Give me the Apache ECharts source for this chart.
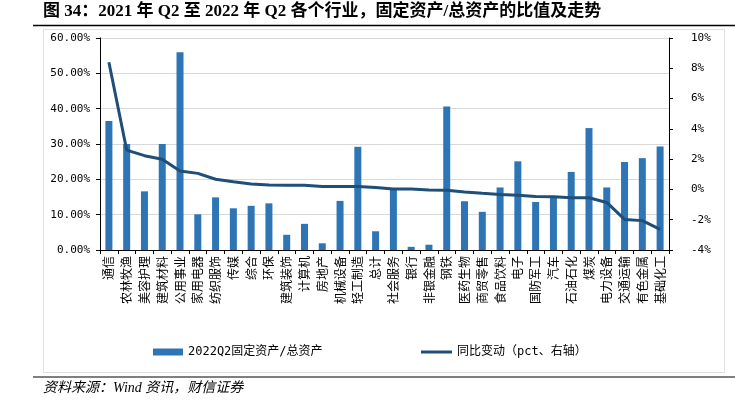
<!DOCTYPE html>
<html>
<head>
<meta charset="utf-8">
<script src="https://cdn.jsdelivr.net/npm/echarts@6/dist/echarts.min.js"></script>
<style>
html,body{margin:0;padding:0;background:#fff;}
#main{width:735px;height:400px;}
</style>
</head>
<body>
<div id="main"></div>
<script>
const categories = ['通信','农林牧渔','美容护理','建筑材料','公用事业','家用电器','纺织服饰','传媒','综合','环保','建筑装饰','计算机','房地产','机械设备','轻工制造','总计','社会服务','银行','非银金融','钢铁','医药生物','商贸零售','食品饮料','电子','国防军工','汽车','石油石化','煤炭','电力设备','交通运输','有色金属','基础化工'];
const ratio2022Q2 = [36.5,30.0,16.6,30.0,56.0,10.1,14.9,11.8,12.5,13.2,4.3,7.4,1.9,13.9,29.2,5.3,17.2,0.9,1.5,40.6,13.8,10.8,17.7,25.1,13.6,15.0,22.1,34.5,17.7,24.9,26.0,29.3];
const yoyChange = [8.4,2.6,2.23,1.99,1.21,1.06,0.67,0.51,0.36,0.29,0.27,0.27,0.2,0.2,0.2,0.12,0.03,0.03,-0.04,-0.06,-0.17,-0.26,-0.33,-0.39,-0.46,-0.48,-0.55,-0.55,-0.86,-1.98,-2.06,-2.64];
const leftTicks = {min:0, max:60, interval:10};
const rightTicks = {min:-4, max:10, interval:2};
const barName = '2022Q2固定资产/总资产';
const lineName = '同比变动（pct、右轴）';
const titleText = '图 34：2021 年 Q2 至 2022 年 Q2 各个行业，固定资产/总资产的比值及走势';
const sourceText = '资料来源：Wind 资讯，财信证券';

const chart = echarts.init(document.getElementById('main'), null, {renderer:'canvas'});
const monoFont = "'DejaVu Sans Mono','Noto Sans CJK SC',monospace";
const cjkFont = "'Noto Sans CJK SC','DejaVu Sans',sans-serif";
chart.setOption({
  animation:false,
  backgroundColor:'#fff',
  grid:{left:100, right:66, top:38, bottom:150, containLabel:false},
  legend:[
    {data:[{name:barName, icon:'rect'}], left:153, top:346, padding:0, itemWidth:30, itemHeight:7, itemGap:10,
     textStyle:{fontFamily:monoFont, fontSize:12, color:'#000'}},
    {data:[{name:lineName, icon:'rect'}], left:421, top:346, padding:0, itemWidth:31, itemHeight:3,
     textStyle:{fontFamily:monoFont, fontSize:12, color:'#000'}}
  ],
  xAxis:{
    type:'category', data:categories,
    axisLine:{lineStyle:{color:'#000', width:1}},
    axisTick:{show:true, alignWithLabel:false, length:4, lineStyle:{color:'#000'}},
    axisLabel:{rotate:90, interval:0, fontFamily:cjkFont, fontSize:12, color:'#000', margin:6}
  },
  yAxis:[
    {type:'value', min:leftTicks.min, max:leftTicks.max, interval:leftTicks.interval, position:'left',
     axisLine:{show:true, lineStyle:{color:'#000'}},
     axisTick:{show:true, length:4, lineStyle:{color:'#000'}},
     splitLine:{show:true, lineStyle:{color:'#d9d9d9', width:1}},
     axisLabel:{formatter:v=>v.toFixed(2)+'%', fontFamily:monoFont, fontSize:11, color:'#000', margin:10}},
    {type:'value', min:rightTicks.min, max:rightTicks.max, interval:rightTicks.interval, position:'right',
     axisLine:{show:true, lineStyle:{color:'#000'}},
     axisTick:{show:true, length:4, lineStyle:{color:'#000'}},
     splitLine:{show:false},
     axisLabel:{formatter:v=>v+'%', fontFamily:monoFont, fontSize:11, color:'#000', margin:22}}
  ],
  series:[
    {name:barName, type:'bar', data:ratio2022Q2, yAxisIndex:0, barWidth:7,
     itemStyle:{color:'#2E75B6'}},
    {name:lineName, type:'line', data:yoyChange, yAxisIndex:1, symbol:'none',
     lineStyle:{color:'#1F4E79', width:3}, itemStyle:{color:'#1F4E79'}}
  ],
  graphic:[
    {type:'text', left:43, top:3, style:{text:titleText, font:"bold 17px 'Liberation Serif','Noto Sans CJK SC',serif", fill:'#000'}},
    {type:'line', shape:{x1:33, y1:25.5, x2:735, y2:25.5}, style:{stroke:'#000', lineWidth:1.5}},
    {type:'rect', shape:{x:43.5, y:29.5, width:681, height:343}, style:{fill:'none', stroke:'#e0e0e0', lineWidth:1}, z:-1},
    {type:'line', shape:{x1:33, y1:377, x2:735, y2:377}, style:{stroke:'#000', lineWidth:1.2}},
    {type:'text', left:43, top:381, style:{text:sourceText, font:"italic 14px 'Liberation Serif','Noto Sans CJK SC',serif", fill:'#000'}}
  ]
});
</script>
</body>
</html>
